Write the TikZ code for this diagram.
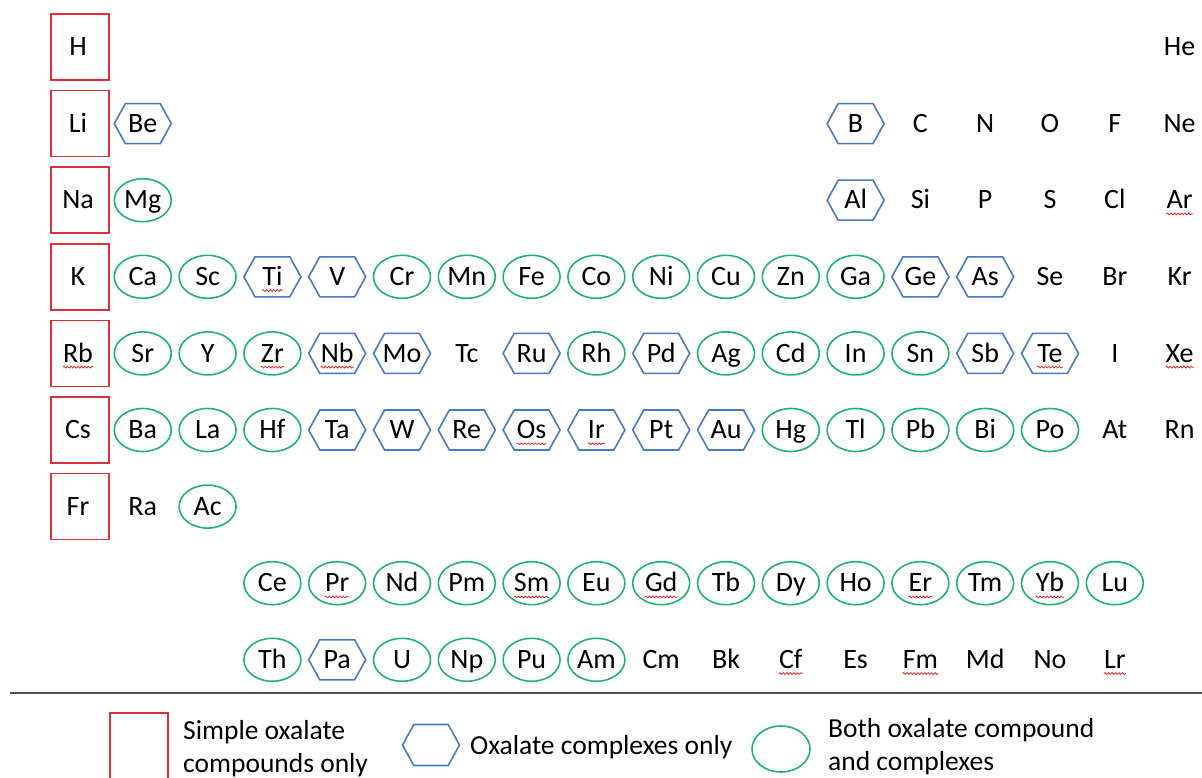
\documentclass[tikz,border=0pt]{standalone}
\usepackage{fontspec}
\setmainfont{Carlito}
\usetikzlibrary{shapes.geometric,shapes.symbols,decorations.pathmorphing}
\definecolor{cred}{RGB}{218,48,54}
\definecolor{cblue}{RGB}{72,122,196}
\definecolor{cgreen}{RGB}{32,178,112}
\definecolor{cwave}{RGB}{230,40,40}
\definecolor{crule}{RGB}{80,80,80}
\begin{document}
\begin{tikzpicture}[x=1pt,y=-1pt,
  lbl/.style={font=\fontsize{28}{32}\selectfont, inner sep=0pt, text height=17.5pt, text depth=0pt},
  legtext/.style={font=\fontsize{27.5}{33}\selectfont, inner sep=0pt, align=left, anchor=west},
  tbox/.style={draw=cred, line width=1.6pt, rectangle, minimum width=58pt, minimum height=66pt, inner sep=0pt, xshift=2pt},
  thex/.style={draw=cblue, line width=1.6pt, signal, signal to=east and west, signal pointer angle=122, minimum width=57pt, minimum height=40pt, inner sep=0pt},
  tell/.style={draw=cgreen, line width=1.6pt, ellipse, minimum width=57pt, minimum height=43pt, inner sep=0pt},
  tnone/.style={inner sep=0pt},
  wavy/.style={draw=cwave, line width=0.8pt, decorate, decoration={snake, amplitude=0.9pt, segment length=3.5pt}},
]
\useasboundingbox (0,0) rectangle (1202,778);
\clip (0,0) rectangle (1202,778);
\foreach \sym/\col/\row/\typ in {
  H/1/1/box, He/18/1/none,
  Li/1/2/box, Be/2/2/hex, B/13/2/hex, C/14/2/none, N/15/2/none, O/16/2/none, F/17/2/none, Ne/18/2/none,
  Na/1/3/box, Mg/2/3/ell, Al/13/3/hex, Si/14/3/none, P/15/3/none, S/16/3/none, Cl/17/3/none, Ar/18/3/none,
  K/1/4/box, Ca/2/4/ell, Sc/3/4/ell, Ti/4/4/hex, V/5/4/hex, Cr/6/4/ell, Mn/7/4/ell, Fe/8/4/ell, Co/9/4/ell, Ni/10/4/ell, Cu/11/4/ell, Zn/12/4/ell, Ga/13/4/ell, Ge/14/4/hex, As/15/4/hex, Se/16/4/none, Br/17/4/none, Kr/18/4/none,
  Rb/1/5/box, Sr/2/5/ell, Y/3/5/ell, Zr/4/5/ell, Nb/5/5/hex, Mo/6/5/hex, Tc/7/5/none, Ru/8/5/hex, Rh/9/5/ell, Pd/10/5/hex, Ag/11/5/ell, Cd/12/5/ell, In/13/5/ell, Sn/14/5/ell, Sb/15/5/hex, Te/16/5/hex, I/17/5/none, Xe/18/5/none,
  Cs/1/6/box, Ba/2/6/ell, La/3/6/ell, Hf/4/6/ell, Ta/5/6/hex, W/6/6/hex, Re/7/6/hex, Os/8/6/hex, Ir/9/6/hex, Pt/10/6/hex, Au/11/6/hex, Hg/12/6/ell, Tl/13/6/ell, Pb/14/6/ell, Bi/15/6/ell, Po/16/6/ell, At/17/6/none, Rn/18/6/none,
  Fr/1/7/box, Ra/2/7/none, Ac/3/7/ell,
  Ce/4/8/ell, Pr/5/8/ell, Nd/6/8/ell, Pm/7/8/ell, Sm/8/8/ell, Eu/9/8/ell, Gd/10/8/ell, Tb/11/8/ell, Dy/12/8/ell, Ho/13/8/ell, Er/14/8/ell, Tm/15/8/ell, Yb/16/8/ell, Lu/17/8/ell,
  Th/4/9/ell, Pa/5/9/hex, U/6/9/ell, Np/7/9/ell, Pu/8/9/ell, Am/9/9/ell, Cm/10/9/none, Bk/11/9/none, Cf/12/9/none, Es/13/9/none, Fm/14/9/none, Md/15/9/none, No/16/9/none, Lr/17/9/none}
{
  \node[t\typ] (s\sym) at ({78+(\col-1)*64.8},{47+(\row-1)*76.6}) {};
  \node[lbl] (\sym) at ({78+(\col-1)*64.8},{47+(\row-1)*76.6}) {\sym};
}
\foreach \w in {Ar,Ti,Rb,Zr,Nb,Te,Xe,Os,Ir,Pr,Sm,Gd,Er,Yb,Cf,Fm,Lr}
  \draw[wavy] ([yshift=-5pt]\w.base west) -- ([yshift=-5pt]\w.base east);
% legend
\coordinate (rl) at (10,693);
\coordinate (rr) at (1202,693);
\draw[crule, line width=1.6pt] (rl) -- (rr);
\node[tbox, minimum height=80pt, anchor=north, xshift=-2pt] (lbox) at (139,712) {};
\node[legtext] (ltxt1) at (183,749) {Simple oxalate\\compounds only};
\node[thex, minimum height=41pt] (lhex) at (431,745) {};
\node[legtext] (ltxt2) at (470,747) {Oxalate complexes only};
\node[tell, minimum width=58pt, minimum height=46pt] (lell) at (781,749) {};
\node[legtext] (ltxt3) at (828,747) {Both oxalate compound\\and complexes};
\end{tikzpicture}
\end{document}
